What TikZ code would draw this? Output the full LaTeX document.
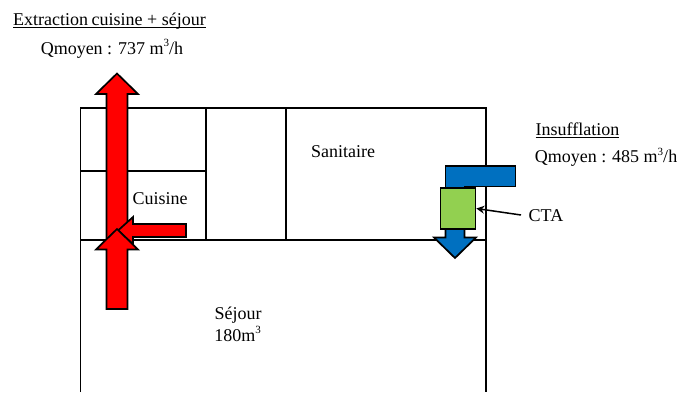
\documentclass[tikz,border=0pt]{standalone}
\usepackage{fontspec}
\usetikzlibrary{arrows.meta}
\setmainfont{Liberation Serif}
\definecolor{ductblue}{RGB}{0,112,192}
\definecolor{ctagreen}{RGB}{146,208,80}
\newcommand{\cube}{\raisebox{0.42em}{\fontsize{11}{11}\selectfont 3}}
\newcommand{\ulbar}[1]{\setbox0\hbox{#1}\rlap{\rule[-2.9pt]{\wd0}{1pt}}\box0}
\tikzset{
  wall/.style={line width=1.5pt},
  redarrow/.style={draw=black,fill=red,line width=1.7pt,miter limit=10},
  bluearrow/.style={draw=black,fill=ductblue,line width=1.7pt},
  lbl/.style={inner sep=0pt,anchor=base,font=\fontsize{18}{21}\selectfont},
}
\begin{document}
\begin{tikzpicture}[x=1pt,y=-1pt]
\useasboundingbox (0,0) rectangle (678,392);
% walls
\draw[wall] (80.5,392) -- (80.5,108) -- (486,108) -- (486,392);
\draw[wall] (80.5,240) -- (486,240);
\draw[wall] (80.5,171) -- (206,171);
\draw[wall] (206,108) -- (206,240);
\draw[wall] (286,108) -- (286,240);
% extraction
\draw[redarrow] (106.5,240) -- (106.5,94) -- (96,94) -- (117,73.5) -- (138,94) -- (127.5,94) -- (127.5,240) -- cycle;
\draw[redarrow] (186,224) -- (133,224) -- (133,217) -- (118,230.5) -- (133,244) -- (133,237) -- (186,237) -- cycle;
\draw[redarrow] (106.5,309) -- (106.5,249.5) -- (96,249.5) -- (117,229) -- (138,249.5) -- (127.5,249.5) -- (127.5,309) -- cycle;
% insufflation
\draw[bluearrow] (445.5,190) -- (445.5,166) -- (515.5,166) -- (515.5,186.5) -- (464.5,186.5) -- (464.5,190) -- cycle;
\draw[bluearrow] (445.5,227) -- (445.5,237.5) -- (434,237.5) -- (455,258) -- (476,237.5) -- (464.5,237.5) -- (464.5,227) -- cycle;
\node[draw=black,fill=ctagreen,line width=1.7pt,minimum width=35pt,minimum height=40.5pt,inner sep=0pt] (ctabox) at (458,208.5) {};
% texts
\node[lbl] (cta) at (546,221.7) {CTA};
\coordinate (ctaend) at (521,215);
\draw[line width=1.5pt,-{Stealth[length=8pt,width=8pt]}] (ctaend) -- (ctabox.east);
\node[lbl] (extraction) at (109.5,25) {\ulbar{Extraction\hspace{3.5pt}cuisine\hspace{4.5pt}+\hspace{4.5pt}séjour}};
\node[lbl] (qextraction) at (112,54) {Qmoyen : 737 m\cube/h};
\node[lbl] (insufflation) at (577.5,135) {\ulbar{Insufflation}};
\node[lbl] (qinsufflation) at (606,162.7) {Qmoyen : 485 m\cube/h};
\node[lbl] (sanitaire) at (343,157.5) {Sanitaire};
\node[lbl] (cuisine) at (160,204) {Cuisine};
\node[lbl] (sejour) at (238,319) {Séjour};
\node[lbl] (volume) at (237.5,341) {180m\cube};
\end{tikzpicture}
\end{document}
